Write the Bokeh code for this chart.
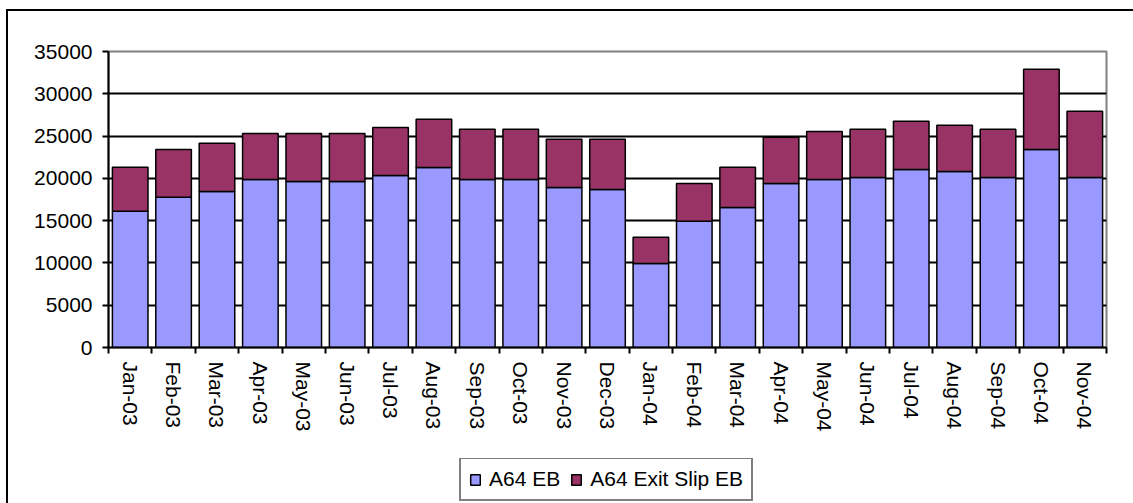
import math
from bokeh.plotting import figure
from bokeh.layouts import column
from bokeh.models import FixedTicker, Legend, LegendItem, ColumnDataSource, Range1d
from bokeh.embed import file_html
from bokeh.resources import INLINE

months = ["Jan-03", "Feb-03", "Mar-03", "Apr-03", "May-03", "Jun-03", "Jul-03", "Aug-03",
          "Sep-03", "Oct-03", "Nov-03", "Dec-03", "Jan-04", "Feb-04", "Mar-04", "Apr-04",
          "May-04", "Jun-04", "Jul-04", "Aug-04", "Sep-04", "Oct-04", "Nov-04"]
a64_eb = [16120, 17780, 18450, 19860, 19630, 19630, 20340, 21280, 19860, 19860, 18920, 18680,
          9930, 14940, 16550, 19390, 19860, 20100, 21050, 20810, 20100, 23410, 20100]
a64_exit_slip_eb = [5200, 5630, 5710, 5440, 5670, 5670, 5670, 5720, 5960, 5960, 5710, 5950,
                    3120, 4450, 4770, 5460, 5680, 5720, 5710, 5480, 5720, 9500, 7840]
series_names = ["A64 EB", "A64 Exit Slip EB"]
y_ticks = [0, 5000, 10000, 15000, 20000, 25000, 30000, 35000]

FONT = "Liberation Sans"
FS = "21px"
COLORS = ["#9999FF", "#993366"]
xs = list(range(1, len(months) + 1))
source = ColumnDataSource(dict(x=xs, eb=a64_eb, slip=a64_exit_slip_eb))

p = figure(width=1125, height=447, x_range=Range1d(0.5, len(months) + 0.5),
           y_range=Range1d(0, 35000), output_backend="svg", toolbar_location=None,
           min_border_left=100, min_border_top=40, min_border_right=27, min_border_bottom=111)
p.background_fill_color = "white"
p.border_fill_color = "white"
p.outline_line_color = "#808080"
p.outline_line_width = 2

rs = p.vbar_stack(["eb", "slip"], x="x", width=0.82, source=source,
                  color=COLORS, line_color="black", line_width=1.5)

# y axis
yax = p.yaxis[0]
yax.ticker = FixedTicker(ticks=y_ticks)
yax.axis_line_color = "black"
yax.axis_line_width = 2
yax.major_tick_line_color = "black"
yax.major_tick_line_width = 2
yax.major_tick_out = 6
yax.major_tick_in = 0
yax.minor_tick_line_color = None
yax.major_label_text_font = FONT
yax.major_label_text_font_size = FS
yax.major_label_text_color = "black"
yax.major_label_standoff = 10

# x axis: labels at centers, ticks between categories (minor ticks)
xax = p.xaxis[0]
xax.ticker = FixedTicker(ticks=xs, minor_ticks=[i + 0.5 for i in range(0, len(months) + 1)])
xax.major_label_overrides = {x: m for x, m in zip(xs, months)}
xax.major_label_orientation = -math.pi / 2
xax.axis_line_color = "black"
xax.axis_line_width = 2
xax.major_tick_line_color = None
xax.minor_tick_line_color = "black"
xax.minor_tick_line_width = 2
xax.minor_tick_out = 6
xax.minor_tick_in = 0
xax.major_label_text_font = FONT
xax.major_label_text_font_size = FS
xax.major_label_text_color = "black"
xax.major_label_standoff = 8

p.xgrid.grid_line_color = None
p.ygrid.ticker = FixedTicker(ticks=y_ticks[1:-1])
p.ygrid.grid_line_color = "black"
p.ygrid.grid_line_width = 2

# legend strip (separate figure so the legend is not clipped by the chart frame)
lf = figure(width=1125, height=45, x_range=Range1d(0, 1), y_range=Range1d(0, 1),
            output_backend="svg", toolbar_location=None, x_axis_type=None, y_axis_type=None,
            min_border=0)
lf.outline_line_color = None
lf.background_fill_color = "white"
lf.border_fill_color = "white"
# one off-screen, zero-height row so the legend swatches can be drawn
legend_source = ColumnDataSource(dict(x=[5], eb=[0], slip=[0]))
lrs = lf.vbar_stack(["eb", "slip"], x="x", width=0.82, source=legend_source,
                    color=COLORS, line_color="black", line_width=1.5)

legend = Legend(items=[LegendItem(label=series_names[0], renderers=[lrs[0]]),
                       LegendItem(label=series_names[1], renderers=[lrs[1]])],
                location=(351, 2), orientation="horizontal")
legend.label_text_font = FONT
legend.label_text_font_size = FS
legend.label_text_color = "black"
legend.glyph_width = 12
legend.glyph_height = 13
legend.label_standoff = 8
legend.spacing = 10
legend.padding = 8
legend.margin = 0
legend.border_line_color = "black"
legend.border_line_width = 2
legend.background_fill_color = "white"
legend.background_fill_alpha = 1
lf.add_layout(legend, "center")

layout = column(p, lf, spacing=0)
layout.styles = {"border-left": "2px solid black", "border-top": "2px solid black",
                 "margin-left": "6px", "margin-top": "9px"}

open("out.html", "w").write(file_html(layout, INLINE))
